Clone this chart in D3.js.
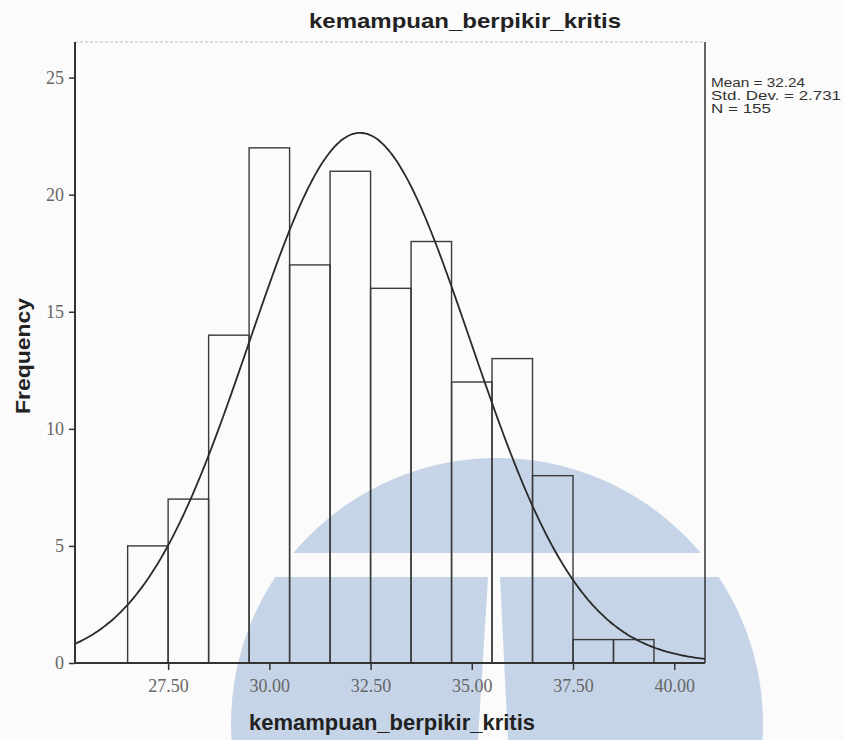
<!DOCTYPE html>
<html>
<head>
<meta charset="utf-8">
<script src="https://cdn.jsdelivr.net/npm/d3@7/dist/d3.min.js"></script>
<style>
  html, body { margin: 0; padding: 0; background: #fbfbfb; }
  svg { display: block; }
  text { font-family: "Liberation Sans", Arial, sans-serif; }
  .tick text { font-family: "Liberation Serif", "Times New Roman", serif; }
</style>
</head>
<body>
<svg id="chart" width="844" height="740"></svg>
<script>
// ---- data ----
const title = "kemampuan_berpikir_kritis";
const xLabel = "kemampuan_berpikir_kritis";
const yLabel = "Frequency";
const binCenters = [27, 28, 29, 30, 31, 32, 33, 34, 35, 36, 37, 38, 39];
const frequencies = [5, 7, 14, 22, 17, 21, 16, 18, 12, 13, 8, 1, 1];
const binWidth = 1;
const xTicks = [27.5, 30, 32.5, 35, 37.5, 40];
const yTicks = [0, 5, 10, 15, 20, 25];
const statMean = 32.24;
const statSD = 2.731;
const statN = 155;
const statLines = ["Mean = 32.24", "Std. Dev. = 2.731", "N = 155"];

// ---- layout ----
const svg = d3.select("#chart");
const plot = { left: 75, right: 705, top: 42, bottom: 663 };

const x = d3.scaleLinear().domain([25.2, 40.76]).range([plot.left, plot.right]);
const y = d3.scaleLinear().domain([0, 26.52]).range([plot.bottom, plot.top]);

// ---- watermark (background logo) ----
const defs = svg.append("defs");
defs.append("clipPath").attr("id", "domeClip")
  .append("rect").attr("x", 0).attr("y", 0).attr("width", 844).attr("height", 553);
defs.append("clipPath").attr("id", "lowerClip")
  .append("path")
  .attr("d", "M0,577 L488,577 L478,740 L0,740 Z M500,577 L844,577 L844,740 L508,740 Z");
const wm = svg.append("g").attr("fill", "#c6d4e7");
const cx = 497, cy = 724, r = 266;
wm.append("circle").attr("cx", cx).attr("cy", cy).attr("r", r).attr("clip-path", "url(#domeClip)");
wm.append("circle").attr("cx", cx).attr("cy", cy).attr("r", r).attr("clip-path", "url(#lowerClip)");

// ---- frame ----
svg.append("line")
  .attr("x1", plot.left).attr("x2", plot.right).attr("y1", plot.top).attr("y2", plot.top)
  .attr("stroke", "#bbb").attr("stroke-width", 1).attr("stroke-dasharray", "3,2");
svg.append("line")
  .attr("x1", plot.right).attr("x2", plot.right).attr("y1", plot.top).attr("y2", plot.bottom)
  .attr("stroke", "#333").attr("stroke-width", 1.5);

// ---- bars ----
svg.append("g").selectAll("rect")
  .data(binCenters.map((c, i) => ({ c, f: frequencies[i] })))
  .join("rect")
  .attr("x", d => x(d.c - binWidth / 2))
  .attr("y", d => y(d.f))
  .attr("width", d => x(d.c + binWidth / 2) - x(d.c - binWidth / 2))
  .attr("height", d => y(0) - y(d.f))
  .attr("fill", "none")
  .attr("stroke", "#3a3a3a")
  .attr("stroke-width", 1.4);

// ---- normal curve ----
const pdf = v => statN * binWidth / (statSD * Math.sqrt(2 * Math.PI)) *
  Math.exp(-0.5 * Math.pow((v - statMean) / statSD, 2));
const xs = d3.range(0, 301).map(i => x.domain()[0] + (x.domain()[1] - x.domain()[0]) * i / 300);
svg.append("path")
  .datum(xs)
  .attr("d", d3.line().x(v => x(v)).y(v => y(pdf(v))).curve(d3.curveBasis))
  .attr("fill", "none")
  .attr("stroke", "#2a2a2a")
  .attr("stroke-width", 1.8);

// ---- axes ----
const xAxis = d3.axisBottom(x).tickValues(xTicks).tickFormat(d3.format(".2f")).tickSize(7).tickPadding(9);
const gx = svg.append("g").attr("transform", `translate(0,${plot.bottom})`).call(xAxis);
gx.select(".domain").attr("d", `M${plot.left},0H${plot.right}`).attr("stroke", "#333").attr("stroke-width", 2);
gx.selectAll(".tick line").attr("stroke", "#333").attr("stroke-width", 1.5);
gx.selectAll(".tick text").attr("fill", "#666").style("font-size", "18px");

const yAxis = d3.axisLeft(y).tickValues(yTicks).tickSize(6).tickPadding(5);
const gy = svg.append("g").attr("transform", `translate(${plot.left},0)`).call(yAxis);
gy.select(".domain").attr("d", `M0,${plot.top}V${plot.bottom}`).attr("stroke", "#333").attr("stroke-width", 2);
gy.selectAll(".tick line").attr("stroke", "#333").attr("stroke-width", 1.5);
gy.selectAll(".tick text").attr("fill", "#666").style("font-size", "18px");

// ---- titles ----
svg.append("text").attr("x", 465).attr("y", 28)
  .attr("text-anchor", "middle").attr("font-weight", "bold").attr("font-size", 21)
  .attr("textLength", 312).attr("lengthAdjust", "spacingAndGlyphs")
  .attr("fill", "#222").text(title);
svg.append("text").attr("x", 392).attr("y", 730)
  .attr("text-anchor", "middle").attr("font-weight", "bold").attr("font-size", 22)
  .attr("textLength", 286).attr("lengthAdjust", "spacingAndGlyphs")
  .attr("fill", "#222").text(xLabel);
svg.append("text").attr("transform", `translate(30,356) rotate(-90)`)
  .attr("text-anchor", "middle").attr("font-weight", "bold").attr("font-size", 21)
  .attr("textLength", 116).attr("lengthAdjust", "spacingAndGlyphs")
  .attr("fill", "#222").text(yLabel);

// ---- stats ----
const statWidths = [94, 130, 60];
svg.append("g").selectAll("text").data(statLines).join("text")
  .attr("x", 711).attr("y", (d, i) => 87 + i * 13)
  .attr("font-size", 12.5).attr("fill", "#333")
  .attr("textLength", (d, i) => statWidths[i]).attr("lengthAdjust", "spacingAndGlyphs")
  .text(d => d);
</script>
</body>
</html>
